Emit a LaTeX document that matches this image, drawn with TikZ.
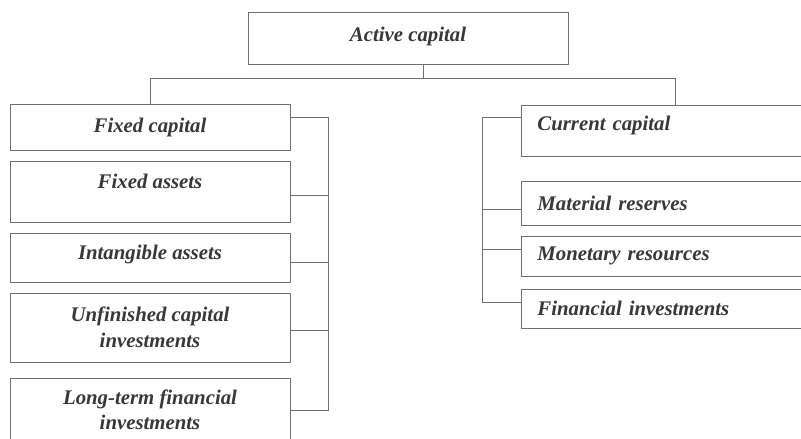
\documentclass[tikz,border=0pt]{standalone}
\usepackage{fontspec}
\setmainfont{Liberation Serif}
\definecolor{linegray}{HTML}{707070}
\definecolor{textgray}{HTML}{383838}
\begin{document}
\begin{tikzpicture}[x=1pt,y=-1pt,
    box/.style={draw=linegray, line width=0.9pt, text=textgray, inner sep=0pt,
        font=\bfseries\itshape\fontsize{20.8}{25.5}\selectfont, align=center},
    lbox/.style={box, minimum width=280pt},
    rbox/.style={box, anchor=west, text width=276pt, inner xsep=16pt, align=left},
    link/.style={draw=linegray, line width=0.9pt}]
\clip (0,0) rectangle (801,439);
\fill[white] (0,0) rectangle (801,439);
% top
\node[box, minimum width=320pt, minimum height=52pt, text depth=8pt] (act) at (408,38) {Active capital};
% left column
\node[lbox, minimum height=46pt] (fc) at (150,127) {Fixed capital};
\node[lbox, minimum height=61pt, text depth=20pt] (fa) at (150,191.5) {Fixed assets};
\node[lbox, minimum height=49pt, text depth=10pt] (ia) at (150,257.5) {Intangible assets};
\node[lbox, minimum height=69pt] (ui) at (150,327.5) {Unfinished capital\\investments};
\node[lbox, minimum height=64pt] (lf) at (150,410) {Long-term financial\\investments};
% right column
\node[rbox, minimum height=51pt, text depth=14pt] (cur) at (521,130.5) {Current capital};
\node[rbox, minimum height=44pt] (mat) at (521,203) {Material reserves};
\node[rbox, minimum height=40pt] (mon) at (521,256) {Monetary resources};
\node[rbox, minimum height=39pt] (fin) at (521,308.5) {Financial investments};
\coordinate (bar) at (0,78);
\coordinate (lspine) at (328,0);
\coordinate (rspine) at (482,0);
\coordinate (finin) at ([yshift=6.5pt]fin.west);
\draw[link] ([xshift=15pt]act.south) -- ([xshift=15pt]act.south |- bar);
\draw[link] (fc.north) |- (bar -| cur.north) -- (cur.north);
% left bracket
\draw[link] ([yshift=10pt]fc.east) -| (lspine |- lf.east) -- (lf.east);
\foreach \n/\s in {fa/-3.5,ia/-4.5,ui/-2.5}
    \draw[link] ([yshift=\s pt]\n.east) -- ([yshift=\s pt]\n.east -| lspine);
% right bracket
\draw[link] ([yshift=13.5pt]cur.west) -| (rspine |- finin) -- (finin);
\foreach \n/\s in {mat/-6,mon/7}
    \draw[link] ([yshift=\s pt]\n.west) -- ([yshift=\s pt]\n.west -| rspine);
\end{tikzpicture}
\end{document}
